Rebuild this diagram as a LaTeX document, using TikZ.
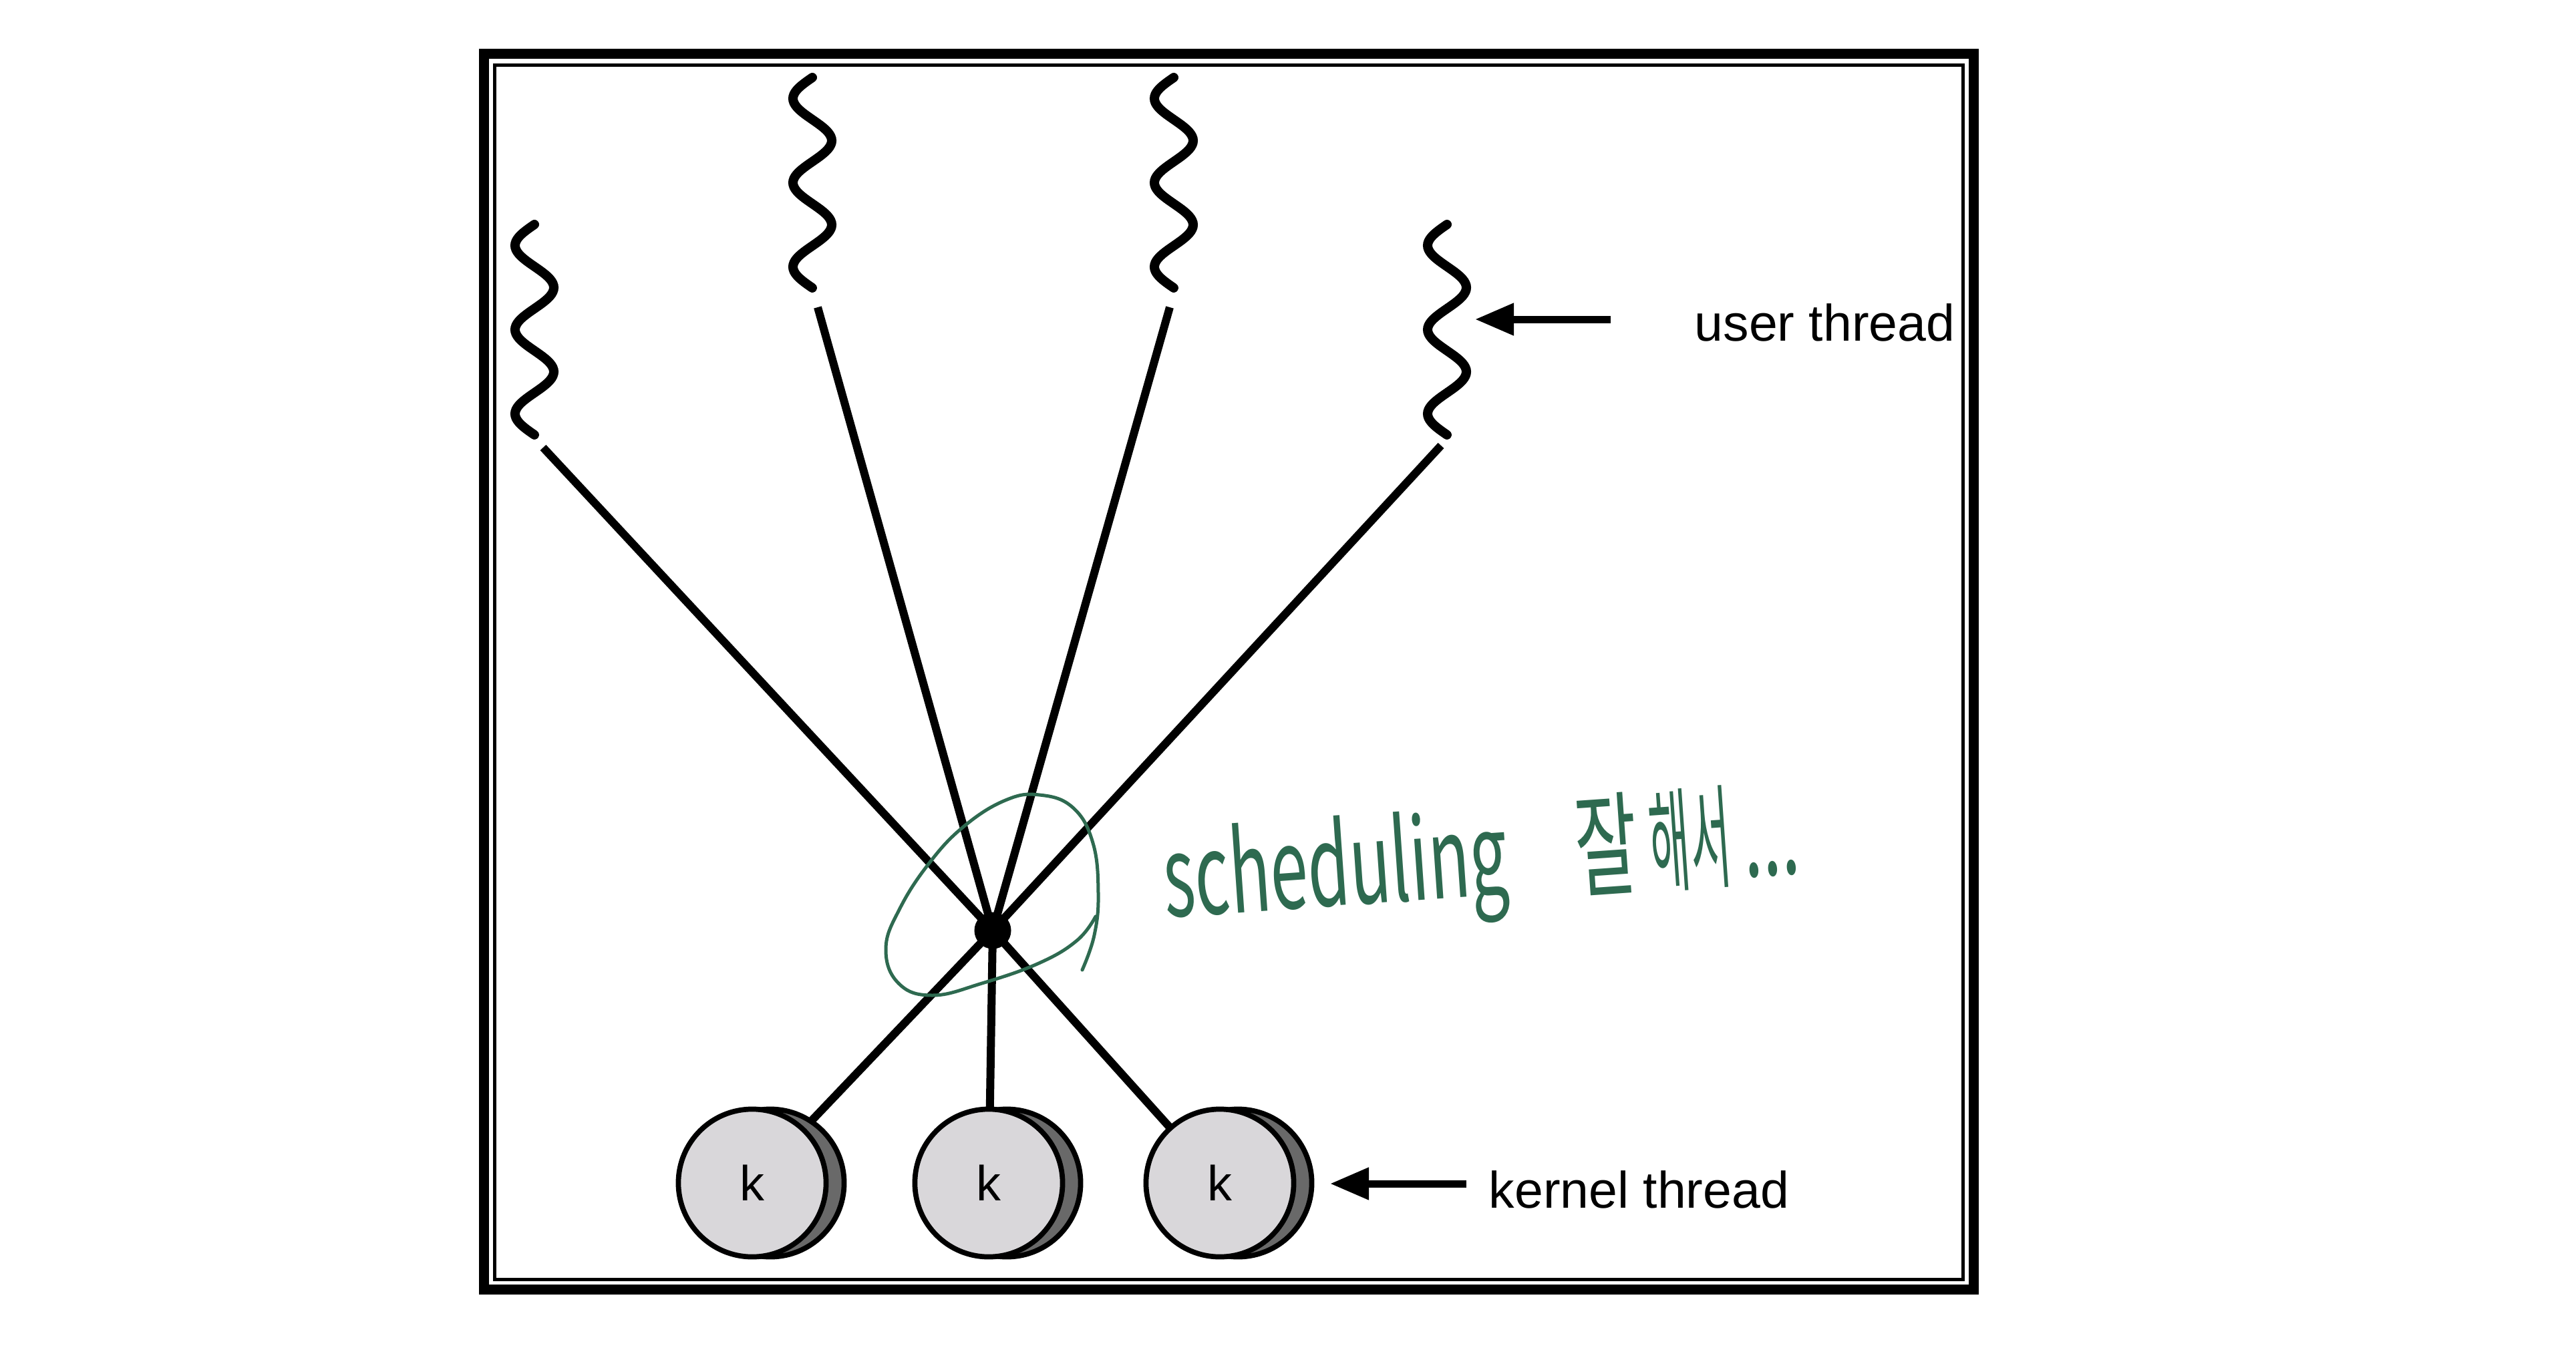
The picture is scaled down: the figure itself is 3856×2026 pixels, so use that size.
\documentclass[tikz,border=0pt]{standalone}
\usepackage{fontspec}
\setmainfont{Liberation Sans}
\newfontfamily\handfont{Noto Sans CJK KR}
\usetikzlibrary{arrows.meta,shadows,backgrounds}
\definecolor{kfront}{RGB}{217,215,218}
\definecolor{kback}{RGB}{105,105,105}
\definecolor{inkgreen}{RGB}{46,106,80}
\begin{document}
\begin{tikzpicture}[x=0.01cm, y=-0.01cm,
  wave/.style={line width=0.14cm, line cap=round},
  conn/.style={line width=0.12cm},
  hubdot/.style={circle, fill=black, inner sep=0pt, minimum size=0.55cm},
  kthread/.style={circle, draw=black, line width=2.2pt, fill=kfront, minimum size=2.21cm, inner sep=0pt,
    font=\fontsize{21pt}{24pt}\selectfont,
    copy shadow={shadow xshift=0.27cm, shadow yshift=0cm, fill=kback, draw=black, line width=2.2pt}},
  pointer/.style={line width=0.11cm, -{Triangle[length=0.58cm, width=0.46cm]}},
  lbl/.style={inner sep=0pt, font=\fontsize{21.9pt}{26pt}\selectfont},
  ink/.style={draw=inkgreen, line width=0.05cm, line cap=round, line join=round},
  inktext/.style={inner sep=0pt, text=inkgreen, font=\handfont\fontsize{48pt}{56pt}\selectfont}
]
\useasboundingbox (0,0) rectangle (3856,2026);

% frame
\draw[line width=0.15cm] (724.5,80.5) rectangle (2954.5,1930.5);
\draw[line width=0.05cm] (740.5,97) rectangle (2938,1915.5);

% user threads (wavy)
\foreach \cx/\yt in {800/336, 1216/116, 1757/116, 2166/336}
  \draw[wave] plot[domain=0:2.5, samples=101, smooth] ({\cx-29*sin(360*\x)}, {\yt+126*\x});

\coordinate (u1) at (813,670);
\coordinate (u2) at (1224,460);
\coordinate (u3) at (1751,460);
\coordinate (u4) at (2157,667);

% hub
\node[hubdot] (hub) at (1486,1393) {};

% kernel threads
\node[kthread] (k1) at (1126,1771) {k};
\node[kthread] (k2) at (1480,1771) {k};
\node[kthread] (k3) at (1826,1771) {k};

\begin{scope}[on background layer]
  \fill[white] (0,0) rectangle (3856,2026);
  \draw[conn] (u1) -- (hub.center);
  \draw[conn] (u2) -- (hub.center);
  \draw[conn] (u3) -- (hub.center);
  \draw[conn] (u4) -- (hub.center);
  \draw[conn] (hub.center) -- (k1.center);
  \draw[conn] (hub.center) -- (k2.center);
  \draw[conn] (hub.center) -- (k3.center);
\end{scope}

% labels and arrows
\node[lbl, anchor=base west] (ut) at (2536,510) {user thread};
\coordinate (uatail) at (2411,478);
\coordinate (uahead) at (2208,478);
\draw[pointer] (uatail) -- (uahead);

\node[lbl, anchor=base west] (kt) at (2228,1808) {kernel thread};
\coordinate (katail) at (2195,1772);
\coordinate (kahead) at (1991,1772);
\draw[pointer] (katail) -- (kahead);

% handwritten annotation
\draw[ink] plot[smooth, tension=0.7] coordinates {(1620,1452) (1638,1400) (1644,1337) (1636,1262) (1606,1209) (1556,1190) (1505,1198) (1443,1237) (1391,1292) (1347,1360) (1326,1420) (1345,1472) (1396,1490) (1470,1472) (1555,1442) (1612,1408) (1640,1372)};
\node[inktext, anchor=base west, rotate=4] (note) at (1745,1374)
  {\scalebox{0.6}[1]{scheduling\hspace{1.7cm}잘\hspace{0.3cm}\scalebox{0.65}[1]{해서}\hspace{0.3cm}...}};
\end{tikzpicture}
\end{document}
